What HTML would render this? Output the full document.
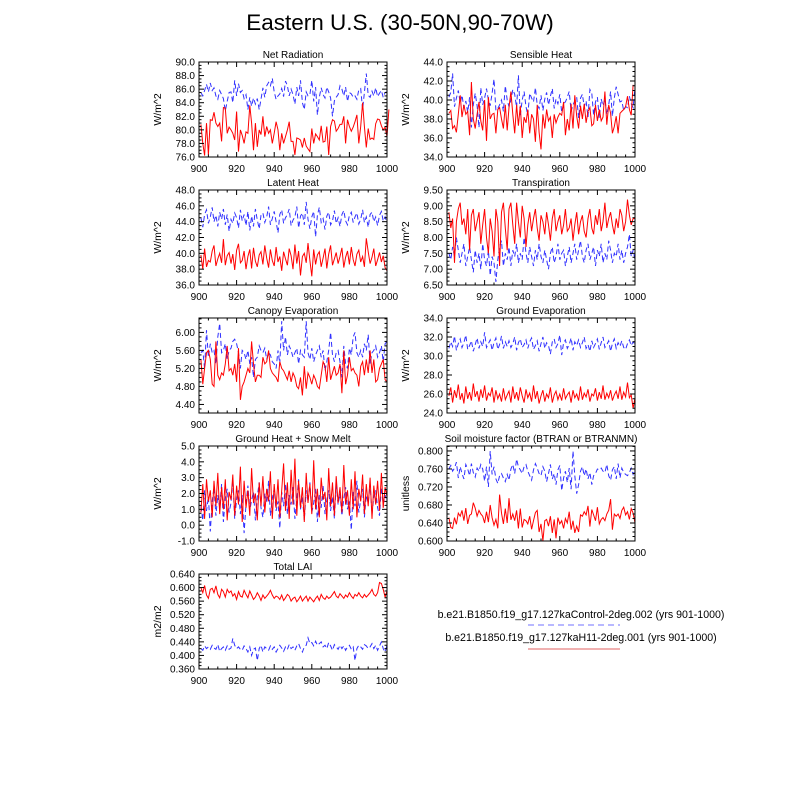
<!DOCTYPE html>
<html><head><meta charset="utf-8"><style>
html,body{margin:0;padding:0;background:#fff;}
svg text{font-family:"Liberation Sans",sans-serif;fill:#000;}
</style></head><body>
<svg id="chart" width="800" height="800" viewBox="0 0 800 800" xmlns="http://www.w3.org/2000/svg">
<rect width="800" height="800" fill="#fff"/>
<text x="400" y="30" font-size="22.5" text-anchor="middle">Eastern U.S. (30-50N,90-70W)</text>
<g id="panels"></g>
<g>
<text x="581" y="618" font-size="10.6" text-anchor="middle">b.e21.B1850.f19_g17.127kaControl-2deg.002 (yrs 901-1000)</text>
<line x1="528" y1="625" x2="620" y2="625" stroke="#7070ff" stroke-width="1" stroke-dasharray="6,4"/>
<text x="581" y="641" font-size="10.6" text-anchor="middle">b.e21.B1850.f19_g17.127kaH11-2deg.001 (yrs 901-1000)</text>
<line x1="528" y1="649" x2="620" y2="649" stroke="#e06060" stroke-width="1"/>
</g>
</svg>
<script>
const years=[900,920,940,960,980,1000];
const netRadRed=[80.8,78,76.2,81,76.3,81.5,81.4,82.6,81,80.5,81,78.3,83.3,83.2,79.5,80.4,80,79.5,78.5,82.7,76.8,80,79.2,78,79.7,79.5,83.6,81,77,81,77.5,80,79.3,82,79,80.5,79.5,80,78,79.5,81.2,80,77,79.5,78,79,80,81.2,78.3,78.3,76.3,78.8,78.7,78.5,77.4,78.8,77.6,77.2,76.8,80.2,78,79.4,79,78.5,80.6,78.2,78.3,80.5,76.3,80.5,81.5,81.3,79.8,80.2,80.8,80.8,82,78,81.5,80.5,79.8,80.4,81.2,82.2,78,80.5,84,80.5,77.4,80.2,78.6,78.8,78.6,80.9,81.6,81.5,80.6,80,80.4,79,83];
const netRadBlue=[85.5,85,85.8,86.7,85.6,86.9,85.8,86.2,85,84.5,85.8,85.2,84.6,82.8,84.2,85.5,85.6,84,87.3,85,86.8,85.5,85.8,84.6,85.2,83,84.8,83.5,84.7,83.8,84.6,83,84.5,86.2,84.8,86.5,87,86.5,87.6,85.6,84.5,85,85.3,86.1,84.9,87.2,86.5,85,86,85.2,83.8,86.3,85,87.3,84,83,85.6,85,85.2,87.3,84.2,86.3,82.2,84.8,86.2,85.2,84.7,86.3,85.6,84.7,82,84.3,84.8,85.2,86.5,86,85,86.3,84.2,85.5,85.3,84.8,85,84.5,85.9,86.1,83,85.5,88.3,85.1,84.8,85.7,85,86.2,84.9,85.4,85.8,84.8,85.5,85.6];
const sensRed=[38.6,38.9,37,37.3,36.6,38.5,40.5,38.2,39.5,38.5,38.8,36.3,41.9,38,37,38.5,39.8,37.8,36.8,40,35.7,40.3,38,38.5,38.6,36.5,39,39.2,38,37,39.5,36.8,39.2,40.9,38.5,36.5,39.5,37.3,39.4,36,38.2,37.6,39,36.5,38.5,38,35.6,39.5,36.6,34.8,38.5,37,39,37.8,38.2,36,38.5,37.6,38.2,38.6,38.4,39.8,36.3,38,36.8,39.6,37,40.5,38.3,37,39.4,38,39.6,37.6,38.8,39.2,37.3,37.5,39.5,37.8,39,37.8,38.2,40.9,37.4,39.5,38.6,36.5,37.2,38.3,36.5,38.6,38.8,39,39.3,40.4,39,38.4,41.6];
const sensBlue=[40.3,40.8,42.8,39.3,40.2,41,39.7,40.5,39.2,39.9,38.7,40.3,37.1,39.5,40.7,39.4,37.1,41.3,39.5,40.2,41.2,40,39.4,40.7,42.2,38.9,39.1,39.5,40,38.8,41.5,40,39.3,40,41.1,40.6,39.2,42.6,38.4,40,40.9,39.3,38.4,40.7,40.2,39.8,41.3,39.5,39.1,40.5,38.9,40.1,40.8,39.5,40.4,41.2,39.1,40.1,39.6,40.6,38.7,39.6,39.8,40.3,40.9,38.8,39.5,39.9,40.3,38.1,40.2,40.6,39.3,39.9,38.2,41.1,40.7,38.4,39.8,40.3,38.1,40.1,39.4,40.1,38.5,39.5,40.9,38.3,40.2,41.4,40.6,39.8,39.9,38.9,39.3,39.2,40.4,39.6,39.2,41.3];
const latRed=[39.8,38,40.6,38.3,39.1,38.9,40.3,41,38.4,39.3,40,38.8,41.8,38.5,39.7,40.1,38.7,39.9,37.9,40.4,41.2,38.8,39.1,40.3,38,39.6,40.5,38.1,40.7,39,38.3,39.8,40.2,38.6,41,39.4,38.2,40.5,39.1,38.4,40.8,38.9,39.6,37.8,40.2,39.3,38.5,40.6,39.7,38,41.1,38.7,40.3,37.2,39.6,40,38.8,41.3,39.1,37.1,40.5,38.6,39.8,40.2,38.3,39.4,40.6,38.1,39.9,41,38.5,39.3,40.1,38.7,39.6,40.7,38.2,39.5,40.3,38.6,40.8,39.2,38.4,39.9,40.4,38.9,39.6,38.3,41.9,40.2,38.7,39.5,40.6,38.4,39.2,40.1,38.9,39.7,38.2,37.8];
const latBlue=[44.5,43.3,44.9,45.5,43.8,44.6,45.8,44,44.8,43.4,45.2,44.3,45.6,43.6,44.9,42.8,44.3,43.8,45.1,44.5,43.2,45.5,44.1,44.9,43.5,45.3,42.9,44.7,43.4,45.6,44.2,43.1,44.8,45.1,43.9,44.6,45.9,43.6,44.4,45.3,44,42.6,44.9,45.5,43.8,44.5,44.9,45.6,43.5,44.2,44.6,45.9,43.2,44.7,45.1,43.6,46.5,44.3,43.1,44.6,45.3,42.1,44.8,45.8,43.9,44.4,43,44.7,45.2,43.6,44.1,45.4,43.8,44.5,43.4,44.9,45.4,44.1,43.6,44.8,45.2,43.9,44.6,45.1,43.7,44.3,45.5,43.9,44.6,43.3,44.9,45.2,44,44.6,43.5,44.8,45.3,44.1,44.6,43.8];
const trRed=[8.8,8.3,8.6,7.2,8.5,8.9,9.1,8.4,8.6,8.1,8.9,7.6,8.7,8.9,8.2,8.5,8.8,7.8,8.4,8.9,8,7.5,8.6,8.2,7.4,8.9,8.5,7.1,8.8,9.1,8.3,7.6,8.9,9.1,8.4,7.8,9.1,8.5,8,9,8.6,7.7,8.4,8.8,8.2,8.6,8.9,8.3,7.9,8.7,8.5,8.1,8.8,8.4,7.9,8.6,8.9,8.2,8.5,8.7,8.1,8.4,8.9,8.2,8.3,8.6,7.9,8.4,8.8,8.1,8.5,8.7,8.2,8,8.6,8.9,8.3,8.1,8.7,8.4,8.9,8.2,8.5,9.1,8.3,8.6,8.8,8.4,8.1,8.6,8.3,8.9,8.7,8.2,8.5,9.2,8.7,8.4,8.6,8.6];
const trBlue=[7.5,7.3,7.7,7.4,8,7.6,7.2,7.5,7.8,7.1,7.4,7.7,7.3,6.9,7.6,7.2,7.5,7,7.8,7.3,7.1,7.6,6.8,7.4,7.2,6.6,7.3,7.7,7.9,7.1,7.5,7.3,7.7,7.1,7.6,7.4,7.8,7.2,7.5,7.3,8,7.5,7.2,7.7,7.4,7.1,7.6,7.3,7.8,7.4,7.2,7.6,7.3,7,7.5,7.7,7.2,7.4,7.8,7.3,7.5,7.6,7.1,7.4,7.7,7.2,7.5,7.8,7.3,7.6,7.9,7.4,7.2,7.6,7.8,7.3,7.5,7.7,7.1,7.6,7.4,7.8,7.2,7.5,7.3,7.9,7.6,7.2,7.5,7.4,7.8,7.3,7.6,7.2,7.5,7.7,8.1,7.4,7.6,7.3];
const cnRed=[5.4,4.85,5.2,5.55,5.6,5.4,4.85,4.8,5.8,5.05,4.95,5.1,5.05,5.3,5.7,5.15,5.2,5.05,5.3,4.9,5.65,4.5,4.8,4.9,5.05,5.2,5.1,5.8,5.3,4.9,5.05,5.05,5,5.45,5.3,5.35,5.6,5.2,5.1,5.05,5,4.9,5.35,5.2,5.15,5.05,4.95,5.15,4.9,5.1,5,4.8,4.75,5,4.6,5.25,4.75,5.1,5,4.85,5.05,4.95,4.8,4.75,5.05,5.35,5.25,4.9,5.45,4.95,5.1,5.25,5.05,5.1,5.3,4.65,5.6,4.85,5.05,5.45,5.15,5.2,5.1,5.05,4.8,5.25,5.35,5.05,5.4,5.1,5.6,5.1,5.4,4.9,4.95,5.2,5.3,5.4,4.95,4.9];
const cnBlue=[5.55,5.6,5.2,6.05,5.45,5.75,5.55,5.6,5.3,5.9,6.2,5.55,5.6,5.75,5.4,5.6,5.65,5.8,5.85,5.75,5.55,5.2,5.6,5.55,5.4,5.6,5.3,5.45,5,5.4,5.45,5.7,5.6,5.55,5.65,5.4,5.55,5.5,5.35,5.3,5.2,5.6,5.3,6.25,5.6,5.9,5.5,5.7,5.6,5.45,5.55,5.65,5.3,5.6,5.5,5.45,6.25,5.55,5.4,5.65,5.35,5.5,5.6,5.7,5.45,5.6,5.15,5.35,5.6,6,5.5,5.35,5.55,5.6,5.35,5,5.7,5.3,5.2,5.65,5.5,5.9,6,5.55,5.45,5.6,5.45,5.75,5.6,5.95,5.3,5.55,5.6,5.7,5.45,5.55,5.7,5.35,5.75,5.8];
const geRed=[25.8,26.7,25.1,26.4,25.6,27,25.4,26.1,25,26.8,25.5,26.2,25.3,27.1,25.7,26.3,25.2,26.5,25.6,26.9,25.3,26.1,25.8,26.7,25.1,26.4,25.5,26,25.2,26.6,25.4,25.9,26.3,25.1,26.8,25.5,26.2,25.3,26.7,25.8,25.1,26.5,25.6,26.1,25.2,26.9,25.5,26.3,25,25.8,26.4,25.2,26,25.6,26.7,25.1,25.9,26.3,25.4,26,25.3,26.6,25.5,25.9,26.2,25.1,26.4,25.6,26,25.3,26.8,25.4,26.1,25.7,26.5,25.2,26,25.8,26.6,25.3,26.2,25.5,26.9,25.4,26.1,25.6,26.4,25.3,25.9,26.3,25.5,26.8,25.4,26.2,25.7,27.2,25.6,25.9,24.5,25.6];
const geBlue=[30.8,31.5,31,32.1,30.6,31.3,31.8,30.9,31.4,32.2,30.7,31.1,31.6,30.5,31.2,31.9,30.8,31.5,31,32.5,30.9,31.3,31.7,30.6,31.4,31.9,30.7,31.2,32.1,30.8,31.5,31,31.6,30.9,31.3,32,30.6,31.4,31.8,30.9,31.2,31.7,30.8,31.5,31.9,30.7,31.1,31.6,30.5,31.3,32,30.8,31.4,31.1,30.2,31.5,31.8,30.9,31.3,32.2,30.1,31.4,31.7,30.8,31.2,31.9,30.6,31.5,31.1,31.7,30.9,31.4,32,30.8,31.2,30.5,31.6,30.9,31.3,31.8,30.7,31.4,32,30.9,31.2,31.6,30.5,31.3,31.8,30.8,31.4,31,31.6,30.9,30.7,31.3,31.7,31.1,31.5,31.2];
const ghRed=[0.8,2.6,0.4,2.9,1.5,2.2,0.5,2.8,1.2,3.3,0.7,2.4,1,2.9,0.3,2.1,1.6,3.2,0.6,2.5,1.3,3.7,0.2,2.8,1.1,2.2,0.6,3.6,1.4,2,0.3,2.7,1.2,3.1,0.8,2.3,1.5,3.4,0.4,2.6,1.1,2.9,0.5,2.2,3.9,0.9,2.7,0.4,3.5,1.3,4.2,0.6,2.8,1.1,2.4,0.2,3.3,1.4,2.6,0.7,4.1,1,2.3,0.5,3,1.6,2.1,0.3,3.6,1.2,2.7,0.6,3.1,1.4,2.4,0.8,3.8,1.3,2.2,0.6,2.9,1,3.4,0.5,2.3,1.5,3.2,0.7,2.6,1.2,3,0.4,2.5,1.3,2.8,0.9,3.3,1.1,2.4,1.8];
const ghBlue=[1.2,0.3,2.2,0.9,1.8,-0.4,1.5,2.4,0.6,1.9,1.1,2.6,0.2,1.7,2.3,0.8,1.4,2.9,0.4,1.6,2.2,0.7,1.9,-0.5,1.3,2.5,0.9,1.6,2.1,0.3,1.8,2.7,1.1,0.5,2,1.4,2.8,0.6,1.7,2.3,0.9,1.5,-0.2,2.1,1.2,2.6,0.7,1.9,1.3,2.4,0.4,1.6,2.9,1,1.8,0.3,2.2,1.5,2.7,0.8,1.4,2.3,0.2,1.9,1.1,2.5,0.7,1.6,2.2,0.9,1.8,0.4,2.6,1.3,2,0.6,1.7,2.4,1,1.5,-0.3,2.1,1.2,2.8,0.8,1.6,2.3,0.5,1.9,1.4,2.6,0.7,1.8,2.2,1.1,0.6,2.4,1.3,1.9,1.5];
const smRed=[0.652,0.63,0.628,0.652,0.637,0.662,0.655,0.668,0.645,0.673,0.638,0.657,0.66,0.685,0.673,0.655,0.668,0.66,0.655,0.64,0.665,0.642,0.68,0.652,0.635,0.648,0.628,0.703,0.662,0.638,0.672,0.64,0.695,0.647,0.66,0.645,0.668,0.628,0.672,0.63,0.648,0.645,0.638,0.655,0.626,0.645,0.663,0.668,0.62,0.638,0.6,0.645,0.648,0.633,0.655,0.618,0.648,0.606,0.652,0.638,0.645,0.628,0.65,0.64,0.665,0.625,0.645,0.618,0.633,0.62,0.658,0.655,0.665,0.658,0.678,0.632,0.67,0.658,0.645,0.675,0.638,0.648,0.652,0.645,0.66,0.668,0.693,0.625,0.66,0.655,0.66,0.65,0.668,0.675,0.658,0.665,0.648,0.672,0.662,0.64];
const smBlue=[0.76,0.768,0.755,0.762,0.775,0.74,0.765,0.75,0.738,0.77,0.76,0.745,0.772,0.752,0.742,0.762,0.755,0.77,0.76,0.733,0.765,0.72,0.8,0.748,0.765,0.738,0.728,0.745,0.75,0.74,0.732,0.748,0.735,0.76,0.77,0.75,0.782,0.765,0.758,0.75,0.765,0.77,0.755,0.745,0.735,0.758,0.772,0.762,0.75,0.745,0.765,0.755,0.732,0.75,0.77,0.738,0.75,0.725,0.758,0.768,0.712,0.74,0.755,0.73,0.762,0.715,0.8,0.745,0.705,0.725,0.755,0.765,0.745,0.76,0.738,0.752,0.725,0.745,0.75,0.76,0.758,0.762,0.755,0.752,0.77,0.745,0.735,0.758,0.765,0.738,0.772,0.74,0.762,0.752,0.748,0.745,0.752,0.762,0.748,0.758];
const laiRed=[0.6,0.585,0.606,0.578,0.568,0.595,0.598,0.585,0.605,0.58,0.57,0.595,0.588,0.572,0.595,0.585,0.59,0.575,0.582,0.565,0.588,0.575,0.572,0.592,0.58,0.57,0.59,0.578,0.565,0.572,0.585,0.575,0.562,0.578,0.568,0.575,0.582,0.592,0.578,0.568,0.575,0.572,0.565,0.578,0.562,0.57,0.58,0.575,0.56,0.568,0.572,0.558,0.565,0.575,0.56,0.568,0.575,0.56,0.572,0.565,0.558,0.568,0.575,0.562,0.58,0.57,0.565,0.575,0.568,0.572,0.58,0.588,0.575,0.57,0.582,0.575,0.568,0.578,0.572,0.585,0.575,0.568,0.58,0.575,0.585,0.575,0.57,0.58,0.572,0.578,0.585,0.595,0.58,0.575,0.585,0.615,0.612,0.595,0.572,0.59];
const laiBlue=[0.42,0.415,0.428,0.42,0.425,0.418,0.43,0.422,0.418,0.432,0.412,0.42,0.425,0.415,0.428,0.418,0.422,0.45,0.43,0.42,0.425,0.418,0.415,0.428,0.42,0.41,0.425,0.4,0.418,0.422,0.385,0.42,0.43,0.41,0.425,0.42,0.415,0.428,0.418,0.425,0.41,0.42,0.43,0.422,0.412,0.425,0.418,0.432,0.42,0.425,0.415,0.428,0.435,0.42,0.41,0.425,0.43,0.452,0.435,0.438,0.428,0.442,0.43,0.435,0.44,0.425,0.43,0.42,0.438,0.428,0.415,0.432,0.425,0.418,0.43,0.42,0.428,0.415,0.425,0.43,0.418,0.425,0.385,0.42,0.43,0.425,0.418,0.432,0.428,0.42,0.425,0.435,0.42,0.43,0.415,0.428,0.44,0.42,0.41,0.43];

const panels=[
 {name:'net-radiation',title:'Net Radiation',col:0,row:0,ymin:76,ymax:90,ticks:[76,78,80,82,84,86,88,90],dec:1,ylab:'W/m^2',red:netRadRed,blue:netRadBlue},
 {name:'sensible-heat',title:'Sensible Heat',col:1,row:0,ymin:34,ymax:44,ticks:[34,36,38,40,42,44],dec:1,ylab:'W/m^2',red:sensRed,blue:sensBlue},
 {name:'latent-heat',title:'Latent Heat',col:0,row:1,ymin:36,ymax:48,ticks:[36,38,40,42,44,46,48],dec:1,ylab:'W/m^2',red:latRed,blue:latBlue},
 {name:'transpiration',title:'Transpiration',col:1,row:1,ymin:6.5,ymax:9.5,ticks:[6.5,7,7.5,8,8.5,9,9.5],dec:2,ylab:'W/m^2',red:trRed,blue:trBlue},
 {name:'canopy-evaporation',title:'Canopy Evaporation',col:0,row:2,ymin:4.21,ymax:6.32,ticks:[4.4,4.8,5.2,5.6,6.0],dec:2,ylab:'W/m^2',red:cnRed,blue:cnBlue},
 {name:'ground-evaporation',title:'Ground Evaporation',col:1,row:2,ymin:24,ymax:34,ticks:[24,26,28,30,32,34],dec:1,ylab:'W/m^2',red:geRed,blue:geBlue},
 {name:'ground-heat',title:'Ground Heat + Snow Melt',col:0,row:3,ymin:-1,ymax:5,ticks:[-1,0,1,2,3,4,5],dec:1,ylab:'W/m^2',red:ghRed,blue:ghBlue},
 {name:'soil-moisture',title:'Soil moisture factor (BTRAN or BTRANMN)',col:1,row:3,ymin:0.6,ymax:0.811,ticks:[0.6,0.64,0.68,0.72,0.76,0.8],dec:3,ylab:'unitless',red:smRed,blue:smBlue},
 {name:'total-lai',title:'Total LAI',col:0,row:4,ymin:0.36,ymax:0.64,ticks:[0.36,0.4,0.44,0.48,0.52,0.56,0.6,0.64],dec:3,ylab:'m2/m2',red:laiRed,blue:laiBlue}
];
const NS='http://www.w3.org/2000/svg';
const root=document.getElementById('panels');
function mk(tag,attrs,parent,txt){const e=document.createElementNS(NS,tag);for(const k in attrs)e.setAttribute(k,attrs[k]);if(txt!==undefined)e.textContent=txt;parent.appendChild(e);return e;}
const colX=[199,447],W=188,H=95,rowY=[62,190,318,446,574];
panels.forEach(p=>{
 const x0=colX[p.col],y0=rowY[p.row];
 const g=mk('g',{},root);
 
 
 const sx=v=>x0+(v-900)/100*W;
 const sy=v=>y0+H-(v-p.ymin)/(p.ymax-p.ymin)*H;
 const t=mk('text',{x:x0+W/2,y:y0-4,'font-size':10,'text-anchor':'middle'},g,p.title);
 
 
 [['blue',p.blue,'#3030ff','5,3'],['red',p.red,'#ff0000','']].forEach(s=>{
  const d=s[1].map((v,i)=>(i?'L':'M')+sx(901+i).toFixed(1)+','+sy(v).toFixed(1)).join('');
  const pa=mk('path',{d:d,fill:'none',stroke:s[2],'stroke-width':1,'stroke-dasharray':s[3]},g);
  
  
 });
 const fr=mk('rect',{x:x0,y:y0,width:W,height:H,fill:'none',stroke:'#000','stroke-width':1},g);
 
 
 for(let v=900;v<=1000;v+=5){
  const major=v%20===0,L=major?5:2.5,x=sx(v);
  mk('line',{x1:x,y1:y0+H,x2:x,y2:y0+H-L,stroke:'#000'},g);
  mk('line',{x1:x,y1:y0,x2:x,y2:y0+L,stroke:'#000'},g);
 }
 years.forEach(v=>{
  const tl=mk('text',{x:sx(v),y:y0+H+15,'font-size':10,'text-anchor':'middle'},g,String(v));
  
  
 });
 const step=p.ticks[1]-p.ticks[0];
 for(let v=p.ticks[0]-step;v<=p.ymax+1e-9;v+=step/4){
  if(v<p.ymin-1e-9)continue;
  const k=Math.round((v-p.ticks[0])/step*4),major=k%4===0,L=major?5:2.5,y=sy(v);
  mk('line',{x1:x0,y1:y,x2:x0+L,y2:y,stroke:'#000'},g);
  mk('line',{x1:x0+W,y1:y,x2:x0+W-L,y2:y,stroke:'#000'},g);
 }
 p.ticks.forEach(v=>{
  const tl=mk('text',{x:x0-4,y:sy(v)+3.5,'font-size':10,'text-anchor':'end'},g,v.toFixed(p.dec));
  
  
 });
 const yt=mk('text',{x:0,y:0,'font-size':10.5,'text-anchor':'middle',transform:`translate(${x0-38},${y0+H/2}) rotate(-90)`},g,p.ylab);
 
 
});
</script>
</body></html>
